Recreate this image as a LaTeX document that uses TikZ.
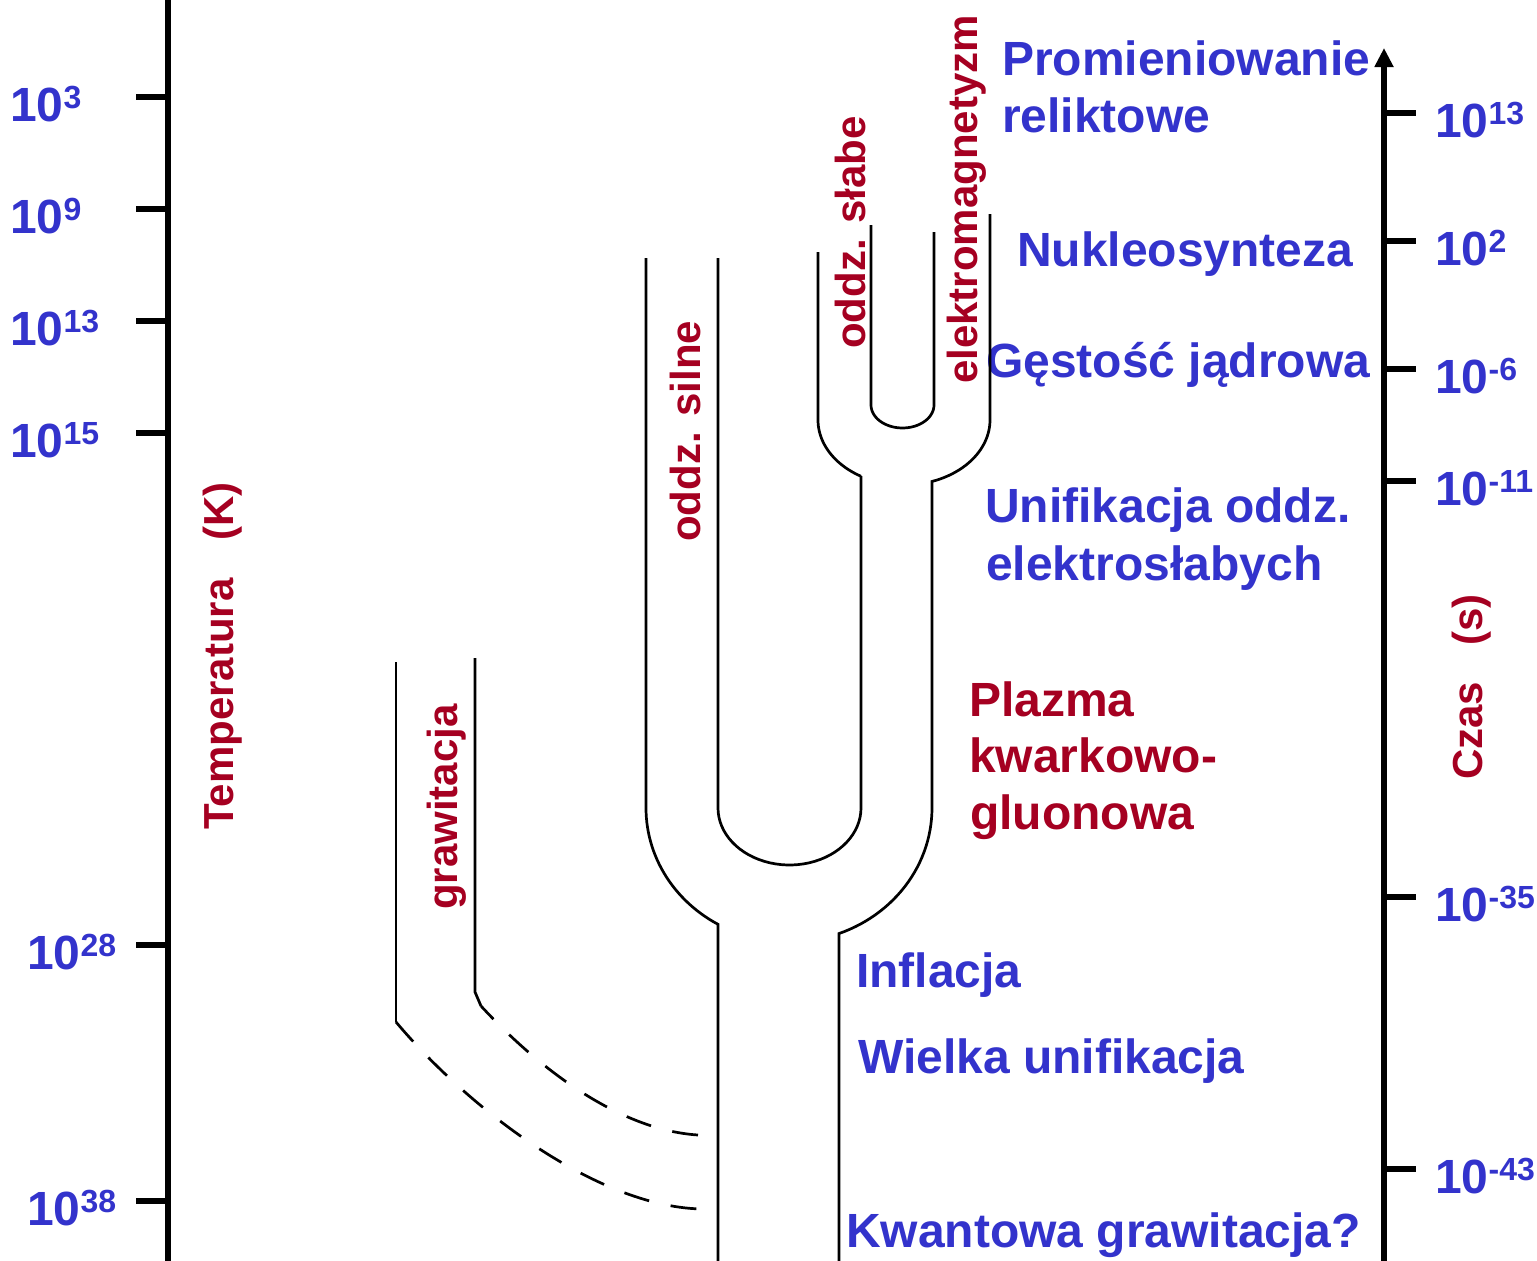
\documentclass[tikz,border=0pt]{standalone}
\usepackage{fontspec}
\setmainfont{Liberation Sans}
\usetikzlibrary{arrows.meta}
\definecolor{blu}{RGB}{51,51,204}
\definecolor{rd}{RGB}{165,0,33}
\newcommand\pw[1]{10\raisebox{13pt}{\fontsize{32}{32}\selectfont #1}}
\begin{document}
\begin{tikzpicture}[x=1pt,y=-1pt,
  lbl/.style={inner sep=0pt, anchor=base west, font=\bfseries\fontsize{48}{56}\selectfont},
  bluelbl/.style={lbl, text=blu},
  redlbl/.style={lbl, text=rd},
  vlbl/.style={inner sep=0pt, anchor=base west, rotate=90, text=rd, font=\bfseries\fontsize{42}{50}\selectfont},
  axisline/.style={line width=5.7pt},
  tickline/.style={line width=6pt},
  band/.style={line width=2.7pt},
  dsh/.style={band, dash pattern=on 26pt off 22pt}]
\useasboundingbox (0,0) rectangle (1537,1261);
% axes
\draw[axisline] (168,0) -- (168,1261);
\foreach \y in {97,209,321,433,945,1201} \draw[tickline] (136,\y) -- (168,\y);
\draw[axisline, -{Triangle[width=18pt,length=19pt]}] (1384,1261) -- (1384,48);
\foreach \y in {113,241,369,481,897,1169} \draw[tickline] (1384,\y) -- (1416,\y);
% left scale
\node[bluelbl] (t3) at (10,121) {\pw{3}};
\node[bluelbl] (t9) at (10,233) {\pw{9}};
\node[bluelbl] (t13) at (10,345) {\pw{13}};
\node[bluelbl] (t15) at (10,457) {\pw{15}};
\node[bluelbl] (t28) at (27,969) {\pw{28}};
\node[bluelbl] (t38) at (27,1225) {\pw{38}};
% right scale
\node[bluelbl] (s13) at (1435,137) {\pw{13}};
\node[bluelbl] (s2) at (1435,265) {\pw{2}};
\node[bluelbl] (s6) at (1435,393) {\pw{-6}};
\node[bluelbl] (s11) at (1435,505) {\pw{-11}};
\node[bluelbl] (s35) at (1435,921) {\pw{-35}};
\node[bluelbl] (s43) at (1435,1193) {\pw{-43}};
% axis titles
\node[vlbl] (temp) at (233,830) {Temperatura\hspace{38pt}(K)};
\node[vlbl] (czas) at (1482,780) {Czas\hspace{36pt}(s)};
% era labels
\node[bluelbl] (prom) at (1002,75) {Promieniowanie};
\node[bluelbl] (relik) at (1002,132) {reliktowe};
\node[bluelbl] (nukl) at (1017,266) {Nukleosynteza};
\node[bluelbl] (gest) at (986,377) {Gęstość jądrowa};
\node[bluelbl] (unif) at (985,522) {Unifikacja oddz.};
\node[bluelbl] (elsl) at (986,580) {elektrosłabych};
\node[redlbl] (plaz) at (969,716) {Plazma};
\node[redlbl] (kwar) at (969,772) {kwarkowo-};
\node[redlbl] (gluo) at (970,829) {gluonowa};
\node[bluelbl] (infl) at (856,987) {Inflacja};
\node[bluelbl] (wiel) at (858,1073) {Wielka unifikacja};
\node[bluelbl] (kwan) at (846,1247) {Kwantowa grawitacja?};
% force labels
\node[vlbl] (grav) at (457,910) {grawitacja};
\node[vlbl] (siln) at (700,542) {oddz. silne};
\node[vlbl] (slab) at (865,349) {oddz. słabe};
\node[vlbl] (elmg) at (977,384) {elektromagnetyzm};
% bands
\draw[band] (646,258) -- (646,808) -- plot[domain=180:119.8, samples=30, variable=\t] ({789+143*cos(\t)},{808+134*sin(\t)}) -- (718,1261);
\draw[band] (718,258) -- (718,808) -- plot[domain=180:0, samples=40, variable=\t] ({789.5+71.5*cos(\t)},{808+57*sin(\t)}) -- (861,476) -- plot[domain=120:180, samples=25, variable=\t] ({904+86*cos(\t)},{420+65*sin(\t)}) -- (818,252);
\draw[band] (871,225) -- (871,405) -- plot[domain=180:0, samples=30, variable=\t] ({902.5+31.5*cos(\t)},{405+23*sin(\t)}) -- (934,232);
\draw[band] (990,214) -- (990,420) -- plot[domain=0:71, samples=25, variable=\t] ({904+86*cos(\t)},{420+65*sin(\t)}) -- (932,808) -- plot[domain=0:69.5, samples=30, variable=\t] ({789+143*cos(\t)},{808+134*sin(\t)}) -- (839,1261);
% gravity
\draw[band] (396,662) -- (396,1022);
\draw[dsh] (396,1022) .. controls (470,1110) and (600,1209) .. (705,1209);
\draw[band] (475,658) -- (475,992) -- (481,1006);
\draw[dsh] (698,1135) .. controls (620,1130) and (540,1070) .. (481,1006);
\end{tikzpicture}
\end{document}
